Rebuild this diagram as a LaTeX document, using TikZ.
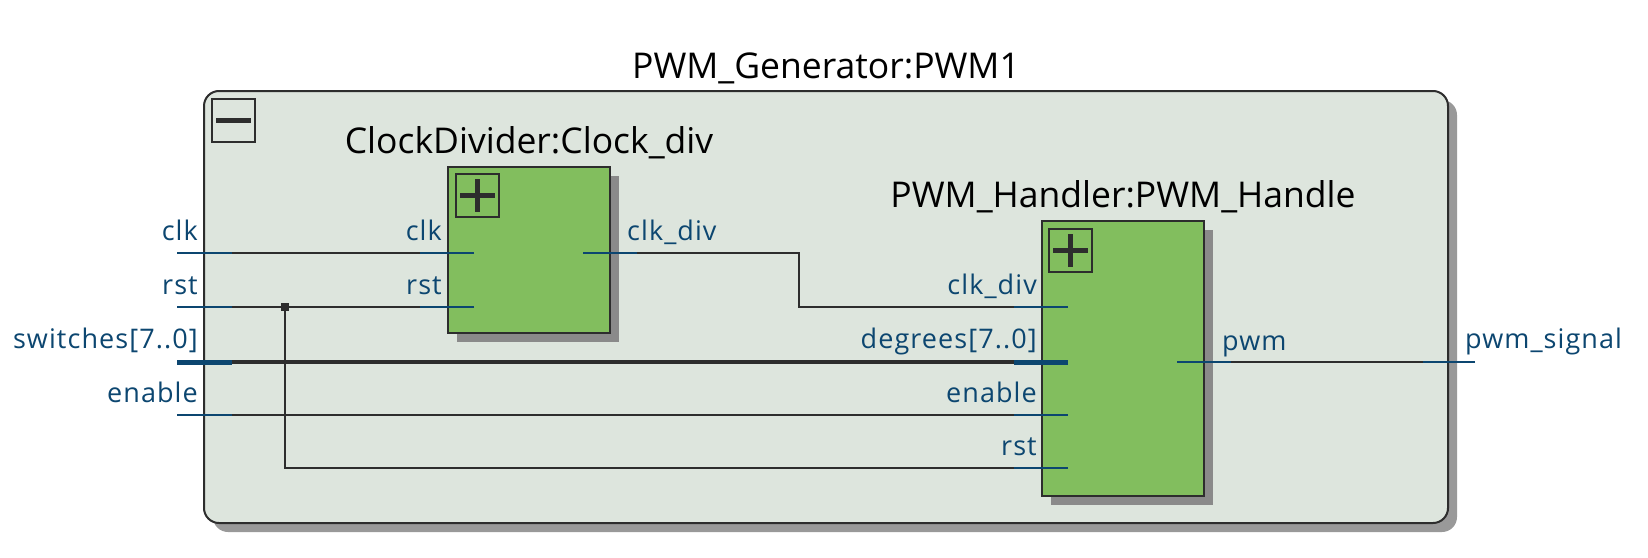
\documentclass[tikz,border=0pt]{standalone}
\usepackage{fontspec}
\setmainfont{Open Sans}
\usetikzlibrary{calc,shadows}

\definecolor{canvas}{RGB}{221,229,221}
\definecolor{blockgreen}{RGB}{130,190,94}
\definecolor{portblue}{RGB}{12,70,112}
\definecolor{wiregray}{RGB}{45,45,45}
\definecolor{blockshadow}{RGB}{138,138,138}
\definecolor{outershadow}{RGB}{153,153,153}

\tikzset{
  wire/.style={draw=wiregray, line width=2pt},
  bus/.style={draw=wiregray, line width=4.5pt},
  stub/.style={draw=portblue, line width=2pt},
  busstub/.style={draw=portblue, line width=5pt},
  portlabel/.style={text=portblue, inner sep=0pt,
    font=\fontsize{27}{29}\selectfont\addfontfeatures{LetterSpace=4}},
  blocktitle/.style={inner sep=0pt, font=\fontsize{35.5}{38}\selectfont},
  outerbox/.style={draw=wiregray, fill=canvas, line width=2pt, rounded corners=15pt,
    anchor=north west, inner sep=0pt, outer sep=0pt,
    drop shadow={shadow xshift=9pt, shadow yshift=-9pt, fill=outershadow, opacity=1}},
  block/.style={draw=wiregray, fill=blockgreen, line width=2pt,
    anchor=north west, inner sep=0pt, outer sep=0pt,
    drop shadow={shadow xshift=9pt, shadow yshift=-9pt, fill=blockshadow, opacity=1}},
  iconbox/.style={draw=wiregray, line width=2pt, anchor=north west, inner sep=0pt,
    outer sep=0pt, minimum width=43pt, minimum height=43pt},
  iconbar/.style={draw=wiregray, line width=5pt},
}

\begin{document}
\begin{tikzpicture}[x=1pt, y=-1pt]
  \useasboundingbox[fill=white] (0,0) rectangle (1648,557);

  %%%%% top level %%%%%
  \node[outerbox, minimum width=1244pt, minimum height=432pt] (gen) at (204,91) {};
  \node[blocktitle, anchor=base] (gentitle) at ($(gen.north)+(0,-13)$) {PWM\_Generator:PWM1};
  \node[iconbox] (genicon) at (212,99) {};
  \draw[iconbar] ($(genicon.west)+(4,0)$) -- ($(genicon.east)+(-4,0)$);

  %%%%% sub blocks %%%%%
  \node[block, minimum width=162pt, minimum height=166pt] (clkdiv) at (448,167) {};
  \node[blocktitle, anchor=base] (clkdivtitle) at ($(clkdiv.north)+(0,-14)$) {ClockDivider:Clock\_div};
  \node[iconbox] (clkdivicon) at (456,174) {};
  \draw[iconbar] ($(clkdivicon.west)+(4,0)$) -- ($(clkdivicon.east)+(-4,0)$);
  \draw[iconbar] ($(clkdivicon.north)+(0,5)$) -- ($(clkdivicon.south)+(0,-5)$);

  \node[block, minimum width=162pt, minimum height=275pt] (pwmh) at (1042,221) {};
  \node[blocktitle, anchor=base] (pwmhtitle) at ($(pwmh.north)+(0,-14)$) {PWM\_Handler:PWM\_Handle};
  \node[iconbox] (pwmhicon) at (1049,229) {};
  \draw[iconbar] ($(pwmhicon.west)+(4,0)$) -- ($(pwmhicon.east)+(-4,0)$);
  \draw[iconbar] ($(pwmhicon.north)+(0,5)$) -- ($(pwmhicon.south)+(0,-5)$);

  %%%%% pins %%%%%
  \coordinate (pin-clk) at (177,253);
  \coordinate (pin-rst) at (177,307);
  \coordinate (pin-sw) at (177,362);
  \coordinate (pin-en) at (177,415);
  \coordinate (pin-pwm) at (1475,362);

  \coordinate (clkdiv-clk) at (474,253);
  \coordinate (clkdiv-rst) at (474,307);
  \coordinate (clkdiv-out) at (583,253);

  \coordinate (pwmh-div) at (1068,307);
  \coordinate (pwmh-deg) at (1068,362);
  \coordinate (pwmh-en) at (1068,415);
  \coordinate (pwmh-rst) at (1068,468);
  \coordinate (pwmh-pwm) at (1177,362);

  \coordinate (rst-dot) at (285,307);

  %%%%% wires %%%%%
  \draw[wire] (pin-clk) -- (clkdiv-clk);
  \draw[wire] (pin-rst) -- (clkdiv-rst);
  \draw[wire] (rst-dot) |- (pwmh-rst);
  \draw[bus] (pin-sw) -- (pwmh-deg);
  \draw[wire] (pin-en) -- (pwmh-en);
  \draw[wire] (clkdiv-out) -- ++(216,0) |- (pwmh-div);
  \draw[wire] (pwmh-pwm) -- (pin-pwm);
  \fill[wiregray] ($(rst-dot)+(-4,-4)$) rectangle ($(rst-dot)+(4,4)$);

  %%%%% port stubs %%%%%
  \draw[stub] (pin-clk) -- ++(55,0);
  \draw[stub] (pin-rst) -- ++(55,0);
  \draw[busstub] (pin-sw) -- ++(55,0);
  \draw[stub] (pin-en) -- ++(55,0);
  \draw[stub] (pin-pwm) -- ++(-52,0);

  \draw[stub] (clkdiv-clk) -- ++(-54,0);
  \draw[stub] (clkdiv-rst) -- ++(-54,0);
  \draw[stub] (clkdiv-out) -- ++(54,0);

  \draw[stub] (pwmh-div) -- ++(-54,0);
  \draw[busstub] (pwmh-deg) -- ++(-54,0);
  \draw[stub] (pwmh-en) -- ++(-54,0);
  \draw[stub] (pwmh-rst) -- ++(-54,0);
  \draw[stub] (pwmh-pwm) -- ++(54,0);

  %%%%% labels %%%%%
  \node[portlabel, anchor=base east] (lbl-clk) at ($(pin-clk)+(21,-13)$) {clk};
  \node[portlabel, anchor=base east] (lbl-rst) at ($(pin-rst)+(21,-13)$) {rst};
  \node[portlabel, anchor=base east] (lbl-sw) at ($(pin-sw)+(21,-14)$) {switches[7..0]};
  \node[portlabel, anchor=base east] (lbl-en) at ($(pin-en)+(21,-13)$) {enable};
  \node[portlabel, anchor=base west] (lbl-pwm) at ($(pin-pwm)+(-10,-14)$) {pwm\_signal};

  \node[portlabel, anchor=base east] (lbl-cd-clk) at ($(clkdiv-clk)+(-32,-13)$) {clk};
  \node[portlabel, anchor=base east] (lbl-cd-rst) at ($(clkdiv-rst)+(-32,-13)$) {rst};
  \node[portlabel, anchor=base west] (lbl-cd-out) at ($(clkdiv-out)+(44,-13)$) {clk\_div};

  \node[portlabel, anchor=base east] (lbl-ph-div) at ($(pwmh-div)+(-31,-13)$) {clk\_div};
  \node[portlabel, anchor=base east] (lbl-ph-deg) at ($(pwmh-deg)+(-31,-14)$) {degrees[7..0]};
  \node[portlabel, anchor=base east] (lbl-ph-en) at ($(pwmh-en)+(-31,-13)$) {enable};
  \node[portlabel, anchor=base east] (lbl-ph-rst) at ($(pwmh-rst)+(-31,-13)$) {rst};
  \node[portlabel, anchor=base west] (lbl-ph-pwm) at ($(pwmh-pwm)+(45,-12)$) {pwm};
\end{tikzpicture}
\end{document}
